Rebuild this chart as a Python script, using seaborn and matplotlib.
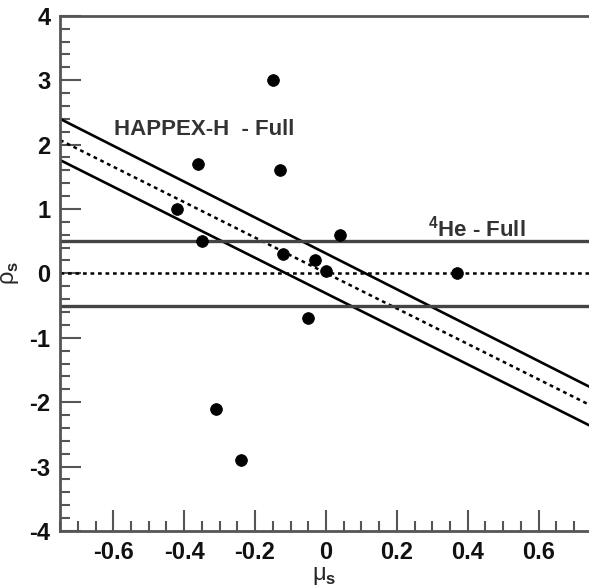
import seaborn as sns
import pandas as pd
import numpy as np
import matplotlib.pyplot as plt
from matplotlib.ticker import MultipleLocator

# noktalar (mu_s, rho_s)
mu_s = [-0.15, -0.36, -0.13, -0.42, -0.35, -0.12, 0.04, -0.03, 0.0, 0.37, -0.05, -0.31, -0.24]
rho_s = [3.0, 1.7, 1.6, 1.0, 0.5, 0.3, 0.6, 0.2, 0.03, 0.0, -0.7, -2.1, -2.9]

# HAPPEX-H bandi (uc noktalar)
band_x = [-0.75, 0.75]
band_upper = [2.4, -1.78]
band_center = [2.07, -2.06]
band_lower = [1.76, -2.38]

# 4He bandi
he_upper = 0.5
he_center = 0.0
he_lower = -0.5

sns.set_style("ticks")
plt.rcParams["font.family"] = ["Liberation Sans", "DejaVu Sans"]
plt.rcParams["mathtext.fontset"] = "custom"
plt.rcParams["mathtext.rm"] = "Liberation Sans"
plt.rcParams["mathtext.bf"] = "Liberation Sans:bold"

fig = plt.figure(figsize=(5.89, 5.86), dpi=100)
ax = fig.add_axes([0.102, 0.094, 0.898, 0.879])

band = pd.DataFrame({"x": band_x * 3,
                     "y": band_upper + band_center + band_lower,
                     "k": ["up"] * 2 + ["mid"] * 2 + ["low"] * 2})
sns.lineplot(data=band[band.k != "mid"], x="x", y="y", units="k", estimator=None,
             color="black", lw=1.9, ax=ax)
sns.lineplot(data=band[band.k == "mid"], x="x", y="y", color="black", lw=1.8,
             ls=(0, (1.5, 1.5)), ax=ax)

ax.axhline(he_upper, color="#444444", lw=2.4)
ax.axhline(he_lower, color="#444444", lw=2.4)
ax.axhline(he_center, color="black", lw=1.8, ls=(0, (1.5, 1.5)))

pts = pd.DataFrame({"mu": mu_s, "rho": rho_s})
sns.scatterplot(data=pts, x="mu", y="rho", color="black", s=70, edgecolor="black", ax=ax, zorder=5)

ax.text(-0.597, 2.23, "HAPPEX-H  - Full", fontsize=16, fontweight="bold", color="#333333",
        va="center", ha="left")
ax.text(0.287, 0.69, r"$^{\mathbf{4}}$He - Full", fontsize=16, fontweight="bold", color="#333333",
        va="center", ha="left")

ax.set_xlim(-0.75, 0.742)
ax.set_ylim(-4, 4)
ax.xaxis.set_minor_locator(MultipleLocator(0.05))
ax.yaxis.set_minor_locator(MultipleLocator(0.2))
ax.set_xticks([-0.6, -0.4, -0.2, 0, 0.2, 0.4, 0.6])
ax.set_xticklabels(["-0.6", "-0.4", "-0.2", "0", "0.2", "0.4", "0.6"])
ax.set_yticks([-4, -3, -2, -1, 0, 1, 2, 3, 4])
ax.set_yticklabels(["-4", "-3", "-2", "-1", "0", "1", "2", "3", "4"])
ax.tick_params(which="both", direction="in", color="#555555", width=1.5)
ax.tick_params(which="major", length=15, labelsize=17, pad=7)
ax.tick_params(which="minor", length=7)
for lab in ax.get_xticklabels() + ax.get_yticklabels():
    lab.set_fontweight("bold")
    lab.set_color("#111111")

for side in ["left", "bottom", "top"]:
    ax.spines[side].set_color("#555555")
    ax.spines[side].set_linewidth(2)
ax.spines["right"].set_visible(False)

ax.set_xlabel(r"μ$_\mathbf{s}$", fontsize=17, labelpad=1)
ax.set_ylabel(r"ρ$_\mathbf{s}$", fontsize=17, labelpad=6)

fig.savefig("out.png", dpi=100)
